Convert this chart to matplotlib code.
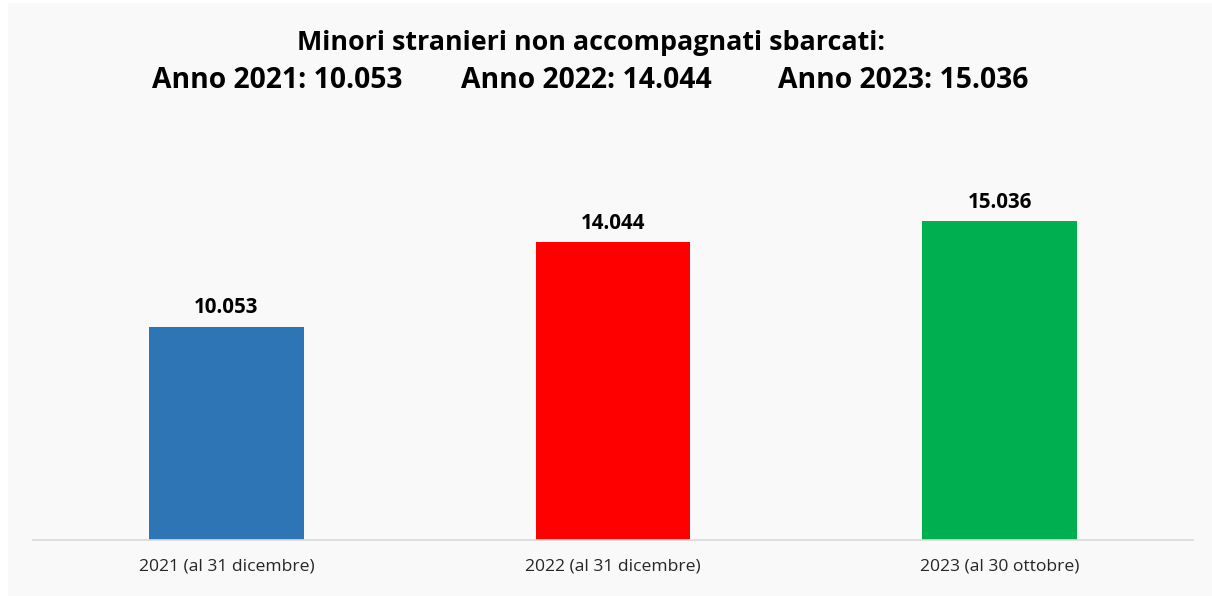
import matplotlib
matplotlib.use('Agg')
import matplotlib.pyplot as plt
from matplotlib.patches import Rectangle

# dati
categorie = ['2021 (al 31 dicembre)', '2022 (al 31 dicembre)', '2023 (al 30 ottobre)']
valori = [10053, 14044, 15036]
etichette = ['10.053', '14.044', '15.036']
colori = ['#2E75B6', '#FF0000', '#00B050']
titolo = 'Minori stranieri non accompagnati sbarcati:'
sottotitoli = ['Anno 2021: 10.053', 'Anno 2022: 14.044', 'Anno 2023: 15.036']

plt.rcParams['font.family'] = ['Open Sans', 'DejaVu Sans']

fig = plt.figure(figsize=(12.12, 5.96), dpi=100, facecolor='white')
# pannello grigio chiaro
fig.patches.append(Rectangle((8 / 1212, 0), 1 - 8 / 1212, 1 - 3 / 596,
                             transform=fig.transFigure, facecolor='#f9f9f9',
                             edgecolor='none', zorder=-5))

ax = fig.add_axes([33 / 1212, 56 / 596, 1160 / 1212, 339 / 596])
ax.set_facecolor('none')
ax.set_zorder(2)

x = range(len(valori))
ax.bar(x, valori, width=0.40, color=colori, zorder=2)
for i, v in enumerate(valori):
    ax.text(i, v + 420, etichette[i], ha='center', va='bottom',
            fontsize=14.8, fontweight='bold', color='black')

ax.set_xlim(-0.5, 2.5)
ax.set_ylim(0, 16000)
ax.set_yticks([])
ax.set_xticks(list(x))
ax.set_xticklabels(categorie, fontsize=12.6, color='#262626')
ax.tick_params(axis='x', length=0, pad=13)
for s in ['top', 'right', 'left']:
    ax.spines[s].set_visible(False)
ax.spines['bottom'].set_color('#d9d9d9')
ax.spines['bottom'].set_linewidth(1.2)

fig.text(591 / 1212, 1 - 43 / 596, titolo, ha='center', va='center',
         fontsize=19.4, fontweight='bold')
for xc, t in zip([277, 586, 903], sottotitoli):
    fig.text(xc / 1212, 1 - 81 / 596, t, ha='center', va='center',
             fontsize=20.3, fontweight='bold')

fig.savefig('out.png', dpi=100, facecolor=fig.get_facecolor())
